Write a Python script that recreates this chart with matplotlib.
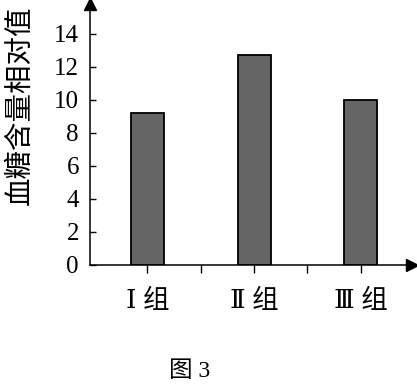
import matplotlib.pyplot as plt

groups = ["Ⅰ 组", "Ⅱ 组", "Ⅲ 组"]
values = [9.2, 12.7, 10.0]
yticks = [0, 2, 4, 6, 8, 10, 12, 14]

cjk = ['Noto Sans CJK SC', 'DejaVu Sans']
serif = ['Liberation Serif', 'DejaVu Serif', 'Noto Sans CJK SC']

fig = plt.figure(figsize=(4.17, 3.85), dpi=100)
ax = fig.add_axes([0.216, 0.312, 0.772, 0.678])

x = list(range(1, len(groups) + 1))
ax.bar(x, values, width=0.31, color='#656565', edgecolor='black', linewidth=1.3)

ax.set_xlim(0.463, 3.48)
ax.set_ylim(0, 15.8)

for s in ['top', 'right']:
    ax.spines[s].set_visible(False)
for s in ['left', 'bottom']:
    ax.spines[s].set_linewidth(1.1)

# arrow heads on the axes
ax.plot(0, 1, marker='^', color='black', markersize=8, transform=ax.transAxes, clip_on=False)
ax.plot(1, 0, marker='>', color='black', markersize=8, transform=ax.transAxes, clip_on=False)

ax.set_yticks(yticks)
ax.set_yticklabels([str(v) for v in yticks], family=serif, fontsize=18)
ax.tick_params(axis='y', direction='in', length=4, width=1, pad=8)

ax.set_xticks(x)
ax.set_xticks([1.5, 2.5], minor=True)
ax.set_xticklabels(groups, family=serif, fontsize=19)
ax.tick_params(axis='x', which='both', direction='out', length=6, width=1, pad=11)

fig.text(0.048, 0.727, "血糖含量相对值", family=cjk, fontsize=20.5,
         rotation=90, ha='center', va='center')
fig.text(0.455, 0.035, "图 3", family=serif, fontsize=17, ha='center', va='center')

fig.savefig('out.png', dpi=100)
